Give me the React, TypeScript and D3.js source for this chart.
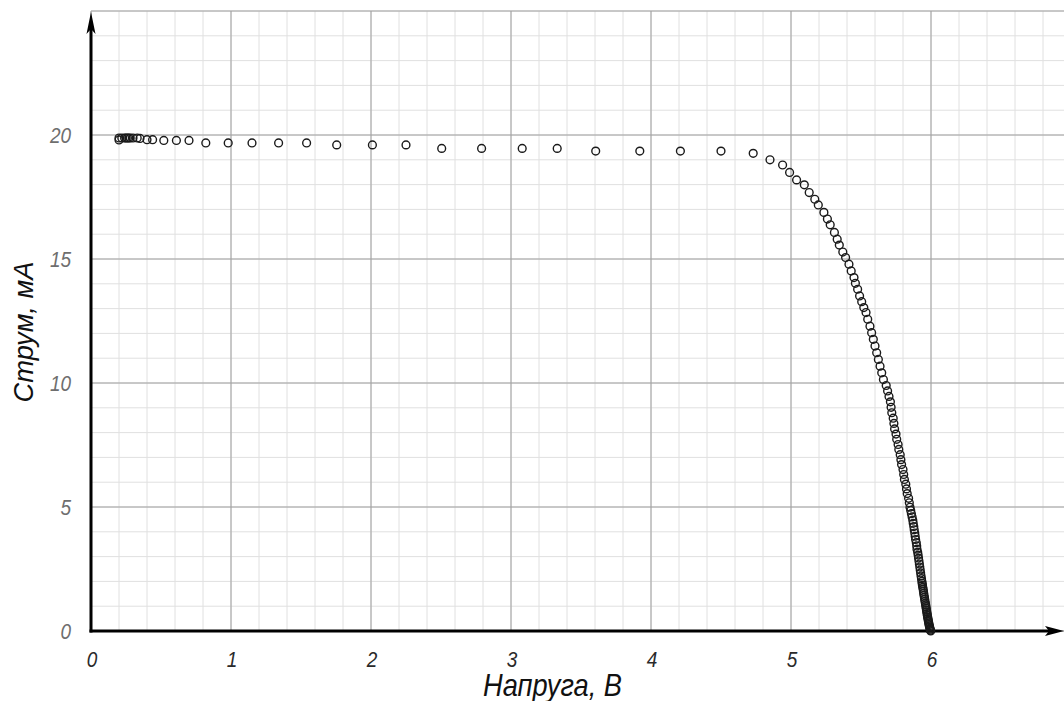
import React from "react";
import * as d3 from "d3";

// Measured I–V points (voltage in V, current in mA)
const voltage: number[] = [
  0.20, 0.20, 0.22, 0.24, 0.25, 0.26, 0.27, 0.28, 0.30, 0.33, 0.35, 0.40, 0.44, 0.52, 0.61, 0.70,
  0.82, 0.98, 1.15, 1.34, 1.54, 1.755, 2.01, 2.25, 2.505, 2.79, 3.08, 3.33, 3.605, 3.92, 4.21, 4.50,
  4.73, 4.85, 4.94, 4.99, 5.04, 5.095, 5.13, 5.17, 5.195, 5.235, 5.26, 5.28, 5.31, 5.33, 5.345, 5.37,
  5.39, 5.414, 5.43, 5.45, 5.46, 5.476, 5.49, 5.505, 5.52, 5.536, 5.548, 5.564, 5.576, 5.588, 5.60,
  5.612, 5.624, 5.636, 5.648, 5.66, 5.68,
  5.69, 5.70, 5.71, 5.715, 5.72, 5.73, 5.735, 5.74, 5.75, 5.755, 5.765, 5.77, 5.78, 5.785, 5.79,
  5.80, 5.805, 5.81, 5.82, 5.825, 5.83, 5.84, 5.845, 5.85,
  5.855, 5.86, 5.865, 5.87, 5.873, 5.877, 5.88, 5.884, 5.887, 5.89, 5.895, 5.898, 5.90, 5.905,
  5.908, 5.911, 5.914, 5.917, 5.92, 5.923, 5.926, 5.929, 5.932, 5.935,
  5.937, 5.939, 5.941, 5.944, 5.946, 5.948, 5.95, 5.953, 5.955, 5.957, 5.96, 5.962, 5.964, 5.966,
  5.968, 5.97, 5.972, 5.974, 5.976, 5.978, 5.98, 5.982, 5.984, 5.986, 5.988, 5.99, 5.992, 5.994,
  5.996, 5.998,
];

const current: number[] = [
  19.80, 19.88, 19.88, 19.88, 19.88, 19.88, 19.88, 19.88, 19.88, 19.88, 19.86, 19.81, 19.81, 19.78,
  19.78, 19.78, 19.68, 19.68, 19.68, 19.68, 19.68, 19.60, 19.60, 19.60, 19.46, 19.46, 19.46, 19.46,
  19.35, 19.35, 19.35, 19.35, 19.26, 19.0, 18.79, 18.49, 18.19, 17.99, 17.68, 17.41, 17.18, 16.88,
  16.61, 16.38, 16.07, 15.80, 15.56, 15.28, 15.06, 14.79, 14.52, 14.25, 14.02, 13.78, 13.51, 13.28,
  13.04, 12.84, 12.57, 12.29, 12.03, 11.76, 11.49, 11.22, 10.95, 10.68, 10.41, 10.14, 9.90,
  9.68, 9.46, 9.24, 9.02, 8.80, 8.58, 8.37, 8.15, 7.94, 7.73, 7.52, 7.32, 7.11, 6.91, 6.71,
  6.51, 6.31, 6.11, 5.92, 5.73, 5.54, 5.35, 5.17, 4.99,
  4.86, 4.73, 4.60, 4.47, 4.34, 4.21, 4.08, 3.95, 3.82, 3.69, 3.56, 3.43, 3.30, 3.18,
  3.06, 2.94, 2.82, 2.70, 2.58, 2.46, 2.34, 2.22, 2.11, 2.00,
  1.92, 1.84, 1.76, 1.68, 1.60, 1.52, 1.44, 1.36, 1.28, 1.20, 1.12, 1.05, 0.98, 0.91,
  0.84, 0.77, 0.70, 0.63, 0.56, 0.50, 0.44, 0.38, 0.32, 0.26, 0.21, 0.16, 0.11, 0.07,
  0.03, 0.00,
];

const xTickLabels: number[] = [0, 1, 2, 3, 4, 5, 6];
const yTickLabels: number[] = [0, 5, 10, 15, 20];
const xTitle = "Напруга, В";
const yTitle = "Струм, мА";

const W = 1064;
const H = 701;
const FONT = "'Liberation Sans', Arial, sans-serif";

export default function App() {
  const x = d3.scaleLinear().domain([0, 7]).range([91, 1071]);
  const y = d3.scaleLinear().domain([0, 25]).range([631, 11]);

  const xMinor = d3.range(0, 7.0001, 0.2).map((v) => +v.toFixed(1));
  const yMinor = d3.range(0, 25.0001, 1);
  const xMajor = d3.range(0, 7.0001, 1);
  const yMajor = d3.range(0, 25.0001, 5);

  const points = voltage.map((v, i) => ({ v, c: current[i] }));

  const x0 = x(0);
  const y0 = y(0);
  const yTop = y(25);

  return (
    <svg
      width={W}
      height={H}
      style={{ position: "absolute", left: 0, top: 0, background: "#fff" }}
    >
      <rect x={0} y={0} width={W} height={H} fill="#fff" />
      {/* minor grid */}
      {xMinor.map((v) => (
        <line key={"xm" + v} x1={x(v)} x2={x(v)} y1={yTop} y2={y0} stroke="#e0e0e0" strokeWidth={1} />
      ))}
      {yMinor.map((v) => (
        <line key={"ym" + v} x1={x0} x2={x(7)} y1={y(v)} y2={y(v)} stroke="#e0e0e0" strokeWidth={1} />
      ))}
      {/* major grid */}
      {xMajor.map((v) => (
        <line key={"xM" + v} x1={x(v)} x2={x(v)} y1={yTop} y2={y0} stroke="#a0a0a0" strokeWidth={1} />
      ))}
      {yMajor.map((v) => (
        <line key={"yM" + v} x1={x0} x2={x(7)} y1={y(v)} y2={y(v)} stroke="#a0a0a0" strokeWidth={1} />
      ))}

      {/* axes */}
      <line x1={x0} x2={x0} y1={y0 + 1.5} y2={26} stroke="#000" strokeWidth={3} />
      <path d={`M${x0},${yTop + 1} L${x0 - 4.5},${yTop + 23} L${x0},${yTop + 18} L${x0 + 4.5},${yTop + 23} Z`} fill="#000" />
      <line x1={x0 - 1.5} x2={1052} y1={y0} y2={y0} stroke="#000" strokeWidth={3} />
      <path d={`M1064,${y0} L1045,${y0 - 5} L1049,${y0} L1045,${y0 + 5} Z`} fill="#000" />

      {/* data */}
      {points.map((p, i) => (
        <circle
          key={i}
          cx={x(p.v)}
          cy={y(p.c)}
          r={3.9}
          fill="none"
          stroke="#1a1a1a"
          strokeWidth={1.4}
        />
      ))}

      {/* tick labels */}
      {xTickLabels.map((v) => (
        <text
          key={"xt" + v}
          transform={`translate(${x(v) + 1},667) scale(1,1.2)`}
          textAnchor="middle"
          fontFamily={FONT}
          fontStyle="italic"
          fontSize={19}
          fill="#2a2a2a"
        >
          {v}
        </text>
      ))}
      {yTickLabels.map((v) => (
        <text
          key={"yt" + v}
          transform={`translate(71,${y(v)}) scale(1,1.2)`}
          textAnchor="end"
          dy="0.36em"
          fontFamily={FONT}
          fontStyle="italic"
          fontSize={19}
          fill="#6e6e6e"
        >
          {v}
        </text>
      ))}

      {/* axis titles */}
      <text
        transform={`translate(552.5,696) scale(1,1.14)`}
        textAnchor="middle"
        fontFamily={FONT}
        fontStyle="italic"
        fontSize={27}
        fill="#111"
        textLength={139}
        lengthAdjust="spacingAndGlyphs"
      >
        {xTitle}
      </text>
      <text
        transform={`translate(33,332) rotate(-90)`}
        textAnchor="middle"
        fontFamily={FONT}
        fontStyle="italic"
        fontSize={27}
        fill="#111"
        textLength={141}
        lengthAdjust="spacingAndGlyphs"
      >
        {yTitle}
      </text>
    </svg>
  );
}
